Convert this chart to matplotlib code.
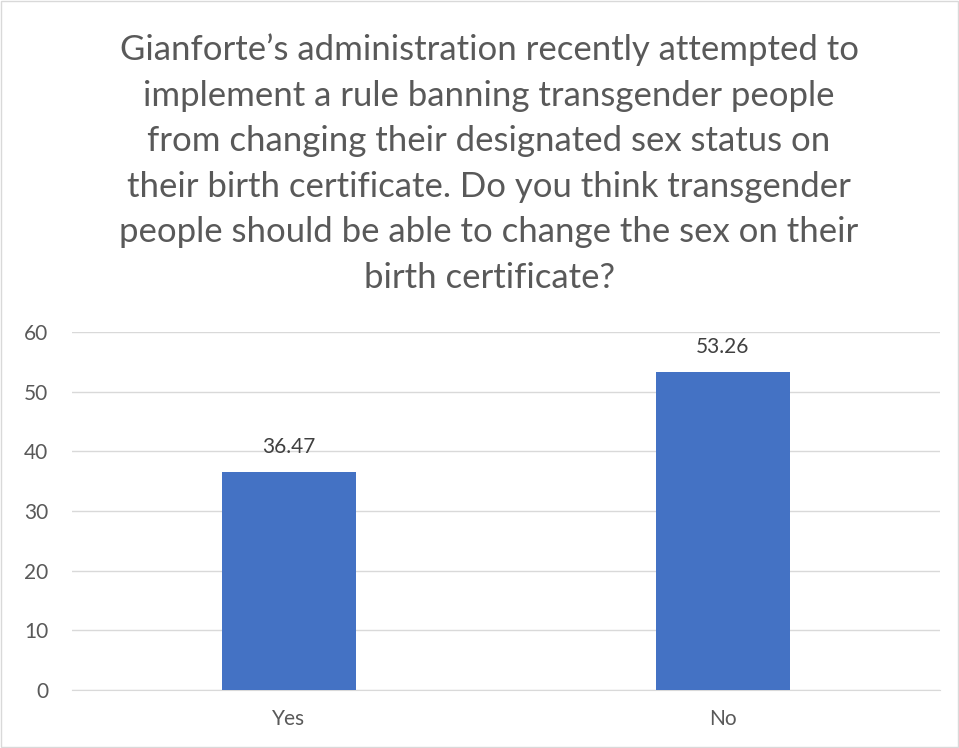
import matplotlib.pyplot as plt
from matplotlib.patches import Rectangle

categories = ["Yes", "No"]
values = [36.47, 53.26]
yticks = [0, 10, 20, 30, 40, 50, 60]

title = ("Gianforte\u2019s administration recently attempted to\n"
         "implement a rule banning transgender people\n"
         "from changing their designated sex status on\n"
         "their birth certificate. Do you think transgender\n"
         "people should be able to change the sex on their\n"
         "birth certificate?")

plt.rcParams['font.family'] = ['Lato', 'DejaVu Sans']

fig = plt.figure(figsize=(9.59, 7.48), dpi=100)
ax = fig.add_axes([0.075, 0.0775, 0.905, 0.4785])

x = range(len(categories))
bars = ax.bar(x, values, width=0.31, color="#4472C4", zorder=3)
for b, v in zip(bars, values):
    ax.text(b.get_x() + b.get_width() / 2, v + 2.6, f"{v:.2f}",
            ha="center", va="bottom", fontsize=15, color="#404040")

ax.set_xlim(-0.5, 1.5)
ax.set_ylim(0, 60)
ax.set_yticks(yticks)
ax.set_xticks(list(x))
ax.set_xticklabels(categories)
ax.tick_params(axis="both", length=0, labelsize=15, labelcolor="#595959")
ax.tick_params(axis="y", pad=17)
ax.tick_params(axis="x", pad=14)
ax.grid(axis="y", color="#d9d9d9", linewidth=1, zorder=0)
for s in ["top", "right", "left"]:
    ax.spines[s].set_visible(False)
ax.spines["bottom"].set_color("#d9d9d9")

fig.text(0.51, 0.955, title, ha="center", va="top", fontsize=25,
         color="#595959", linespacing=1.52)

fig.patches.append(Rectangle((0.001, 0.001), 0.998, 0.998, transform=fig.transFigure,
                             fill=False, edgecolor="#d9d9d9", linewidth=1))

fig.savefig("out.png", dpi=100)
